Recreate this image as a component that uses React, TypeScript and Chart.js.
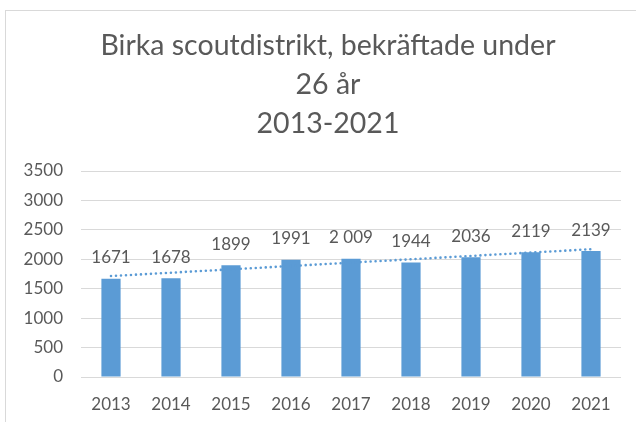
import React, { useEffect, useRef } from "react";
import { Chart, registerables } from "chart.js";

Chart.register(...registerables);

const TITLE_LINES = ["Birka scoutdistrikt, bekräftade under", "26 år", "2013-2021"];
const YEARS = ["2013", "2014", "2015", "2016", "2017", "2018", "2019", "2020", "2021"];
const VALUES = [1671, 1678, 1899, 1991, 2009, 1944, 2036, 2119, 2139];
const VALUE_LABELS = ["1671", "1678", "1899", "1991", "2 009", "1944", "2036", "2119", "2139"];
// dotted linear trendline, endpoints
const TREND = [1715, null, null, null, null, null, null, null, 2171];
const Y_MIN = 0;
const Y_MAX = 3500;
const Y_STEP = 500;

const FONT = "Lato, 'Open Sans', sans-serif";
const TEXT_COLOR = "#595959";
const BAR_COLOR = "#5B9BD5";

const titlePlugin = {
  id: "customTitle",
  afterDraw(chart: any) {
    const ctx = chart.ctx;
    ctx.save();
    ctx.font = `28.5px ${FONT}`;
    ctx.fillStyle = TEXT_COLOR;
    ctx.textAlign = "center";
    ctx.textBaseline = "alphabetic";
    TITLE_LINES.forEach((line, i) => {
      ctx.fillText(line, 328, 55 + i * 39);
    });
    ctx.restore();
  },
};

const dataLabelPlugin = {
  id: "dataLabels",
  afterDatasetsDraw(chart: any) {
    const meta = chart.getDatasetMeta(0);
    const ctx = chart.ctx;
    ctx.save();
    ctx.font = `17px ${FONT}`;
    ctx.fillStyle = TEXT_COLOR;
    ctx.textAlign = "center";
    ctx.textBaseline = "middle";
    meta.data.forEach((bar: any, i: number) => {
      ctx.fillText(VALUE_LABELS[i], bar.x, bar.y - 21);
    });
    ctx.restore();
  },
};

export default function App() {
  const canvasRef = useRef<HTMLCanvasElement>(null);

  useEffect(() => {
    if (!canvasRef.current) return;
    const chart = new Chart(canvasRef.current, {
      type: "bar",
      data: {
        labels: YEARS,
        datasets: [
          {
            type: "bar",
            data: VALUES,
            backgroundColor: BAR_COLOR,
            borderWidth: 0,
            barPercentage: 0.32,
            categoryPercentage: 1,
            order: 2,
          },
          {
            type: "line",
            data: TREND as any,
            spanGaps: true,
            borderColor: BAR_COLOR,
            borderWidth: 2.6,
            borderDash: [0, 5],
            borderCapStyle: "round",
            pointRadius: 0,
            fill: false,
            order: 1,
          } as any,
        ],
      },
      options: {
        responsive: false,
        animation: false,
        layout: { padding: { left: 0, right: 15, top: 171, bottom: 0 } },
        plugins: {
          legend: { display: false },
          tooltip: { enabled: false },
          title: { display: false },
        },
        scales: {
          x: {
            grid: { display: false, drawTicks: false },
            border: { display: false },
            ticks: { color: TEXT_COLOR, font: { family: FONT, size: 17 }, padding: 17 },
            afterFit(scale: any) {
              scale.height = 45;
            },
          },
          y: {
            min: Y_MIN,
            max: Y_MAX,
            grid: { color: "#d9d9d9", lineWidth: 1, drawTicks: false },
            border: { display: false },
            ticks: {
              stepSize: Y_STEP,
              color: TEXT_COLOR,
              font: { family: FONT, size: 17 },
              padding: 18,
              callback: (value: any) => String(value),
            },
            afterFit(scale: any) {
              scale.width = 81;
            },
          },
        },
      },
      plugins: [dataLabelPlugin, titlePlugin],
    });
    return () => chart.destroy();
  }, []);

  return (
    <div
      style={{
        position: "fixed",
        left: 0,
        top: 0,
        width: 636,
        height: 422,
        overflow: "hidden",
        background: "#ffffff",
      }}
    >
      <div
        style={{
          position: "absolute",
          left: 5,
          top: 10,
          width: 700,
          height: 500,
          border: "1px solid #d9d9d9",
          boxSizing: "border-box",
        }}
      />
      <canvas ref={canvasRef} width={636} height={422} style={{ position: "absolute", left: 0, top: 0 }} />
    </div>
  );
}
